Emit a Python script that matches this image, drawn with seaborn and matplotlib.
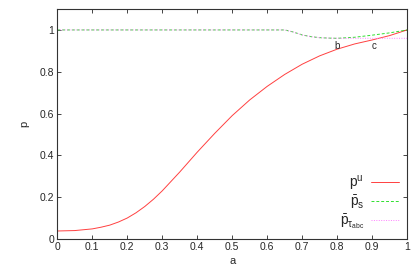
import numpy as np
import pandas as pd
import matplotlib
matplotlib.use("Agg")
import matplotlib.pyplot as plt
import seaborn as sns

# values
a_u = [0.0, 0.05, 0.1, 0.125, 0.15, 0.175, 0.2, 0.225, 0.25, 0.275, 0.3, 0.35, 0.4,
       0.45, 0.5, 0.55, 0.6, 0.65, 0.7, 0.75, 0.8, 0.85, 0.9, 0.95, 1.0]
p_u = [0.038, 0.040, 0.048, 0.056, 0.066, 0.081, 0.10, 0.125, 0.155, 0.19, 0.23, 0.32,
       0.415, 0.505, 0.59, 0.665, 0.73, 0.787, 0.836, 0.876, 0.908, 0.933, 0.952,
       0.973, 1.0]

a_s = [0.0, 0.65, 0.675, 0.7, 0.725, 0.75, 0.775, 0.8, 0.85, 0.9, 0.95, 1.0]
p_s = [1.0, 1.0, 0.99, 0.976, 0.968, 0.963, 0.961, 0.96, 0.965, 0.975, 0.986, 1.0]

a_tau = [0.0, 0.65, 0.675, 0.7, 0.725, 0.75, 0.775, 0.8, 0.9, 1.0]
p_tau = [1.0, 1.0, 0.99, 0.976, 0.968, 0.963, 0.961, 0.96, 0.96, 0.96]

xticks = [0, 0.1, 0.2, 0.3, 0.4, 0.5, 0.6, 0.7, 0.8, 0.9, 1]
yticks = [0, 0.2, 0.4, 0.6, 0.8, 1]

sns.set_style("ticks")
plt.rcParams['font.family'] = ['Liberation Sans', 'DejaVu Sans']
plt.rcParams['xtick.direction'] = 'in'
plt.rcParams['ytick.direction'] = 'in'
plt.rcParams['mathtext.fontset'] = 'custom'
plt.rcParams['mathtext.rm'] = 'Liberation Sans'
plt.rcParams['mathtext.it'] = 'Liberation Sans'

fig = plt.figure(figsize=(4.15, 2.74), dpi=100)
ax = fig.add_axes([0.138, 0.128, 0.843, 0.839])

sns.lineplot(x=a_u, y=p_u, ax=ax, color="#ff4040", lw=0.7, label=r"$\mathrm{p^u}$")
sns.lineplot(x=a_s, y=p_s, ax=ax, color="#30e030", lw=0.7,
             label=r"$\mathrm{\bar{p}_s}$")
sns.lineplot(x=a_tau, y=p_tau, ax=ax, color="#ff80ff", lw=0.7,
             label=r"$\mathrm{\bar{p}_{\tau_{abc}}}$")
ax.lines[1].set_linestyle((0, (3, 2)))
ax.lines[2].set_linestyle((0, (1, 1.5)))

ax.text(0.80, 0.945, "b", fontsize=7, ha="center", va="top")
ax.text(0.905, 0.945, "c", fontsize=7, ha="center", va="top")

ax.set_xlim(0, 1)
ax.set_ylim(0, 1.1)
ax.set_xticks(xticks)
ax.set_xticklabels([f"{t:g}" for t in xticks])
ax.set_yticks(yticks)
ax.set_yticklabels([f"{t:g}" for t in yticks])
ax.tick_params(labelsize=7.5, length=3, width=0.6, top=True, right=True, pad=2)
for s in ax.spines.values():
    s.set_linewidth(0.8)
    s.set_color("#333333")

ax.set_xlabel("a", fontsize=8, labelpad=3)
ax.set_ylabel("p", fontsize=8, labelpad=8)

leg = ax.legend(loc="lower right", frameon=False, markerfirst=False, fontsize=10,
                handlelength=2.0, handletextpad=0.5, labelspacing=0.05,
                borderaxespad=0.2)

fig.savefig("out.png", dpi=100)
